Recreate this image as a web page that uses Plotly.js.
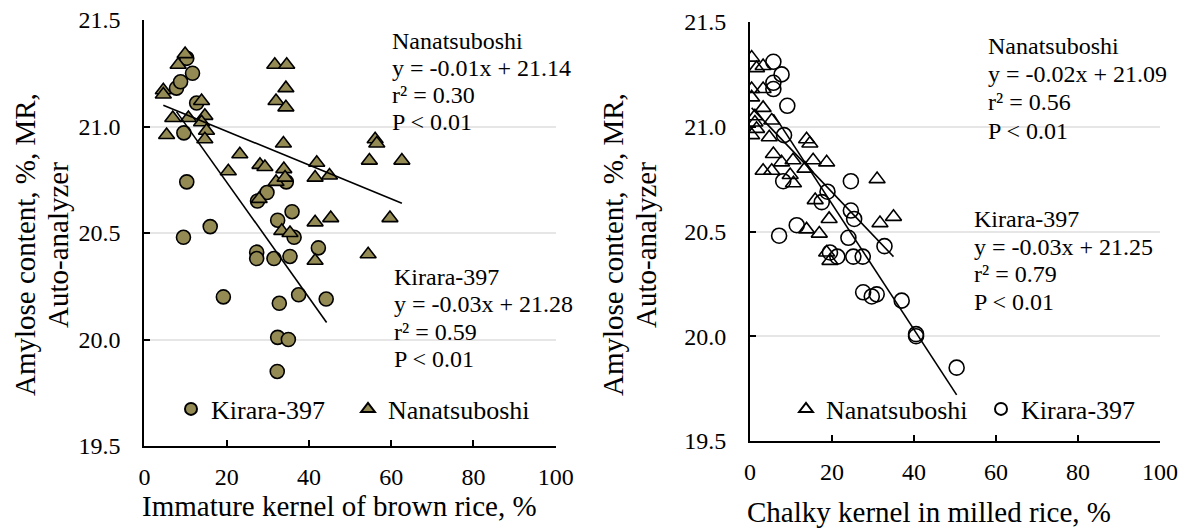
<!DOCTYPE html>
<html><head><meta charset="utf-8">
<script src="https://cdn.plot.ly/plotly-3.0.1.min.js"></script>
<style>html,body{margin:0;padding:0;background:#fff;} #chart{width:1188px;height:529px;}</style>
</head><body><div id="chart"></div>
<script>
// ---------- DATA ----------
// Left panel: Immature kernel of brown rice (%) vs amylose (%)
const kiraraImmX = [7.8, 8.8, 10.3, 11.7, 12.7, 9.6, 10.3, 9.5, 16.0, 19.2, 27.3, 27.3, 27.5, 29.8, 31.5, 32.4, 32.8, 32.4, 32.3, 34.5, 35.0, 35.4, 35.9, 36.4, 37.5, 42.3, 44.2];
const kiraraImmY = [21.18, 21.21, 21.32, 21.25, 21.11, 20.97, 20.74, 20.48, 20.53, 20.20, 20.41, 20.38, 20.65, 20.69, 20.38, 20.56, 20.17, 20.01, 19.85, 20.74, 20.00, 20.39, 20.60, 20.48, 20.21, 20.43, 20.19];
const nanaImmX = [9.9, 8.2, 4.6, 4.6, 31.7, 34.6, 34.4, 32.0, 34.4, 13.9, 6.9, 10.7, 14.7, 13.9, 15.1, 5.4, 14.7, 33.8, 23.2, 28.1, 29.3, 20.4, 33.9, 32.0, 27.9, 41.9, 41.5, 45.0, 33.4, 35.4, 41.5, 45.3, 41.5, 56.1, 56.5, 54.7, 62.6, 54.4, 59.7, 34.2];
const nanaImmY = [21.34, 21.29, 21.17, 21.15, 21.29, 21.29, 21.18, 21.12, 21.09, 21.12, 21.04, 21.04, 21.05, 21.02, 20.98, 20.96, 20.94, 20.92, 20.87, 20.82, 20.81, 20.79, 20.80, 20.74, 20.66, 20.83, 20.76, 20.77, 20.51, 20.50, 20.55, 20.57, 20.37, 20.94, 20.92, 20.84, 20.84, 20.40, 20.57, 20.76];
// Trend lines (end points)
const nanaImmFitX = [4.6, 62.6];
const nanaImmFitY = [21.10, 20.64];
const kiraraImmFitX = [7.8, 44.3];
const kiraraImmFitY = [21.07, 20.08];

// Right panel: Chalky kernel in milled rice (%) vs amylose (%)
const nanaChalkX = [0.4, 1.6, 3.2, 0.4, 0.4, 3.2, 3.2, 1.2, 1.2, 5.3, 1.6, 0.4, 4.7, 13.8, 14.6, 5.7, 7.7, 10.5, 15.4, 18.7, 13.4, 3.2, 5.3, 9.8, 10.6, 31.0, 15.9, 19.3, 31.7, 35.0, 13.8, 16.9, 19.5, 18.7];
const nanaChalkY = [21.33, 21.28, 21.29, 21.18, 21.14, 21.18, 21.09, 21.05, 21.02, 21.03, 20.99, 20.96, 20.95, 20.94, 20.92, 20.87, 20.83, 20.84, 20.84, 20.83, 20.80, 20.79, 20.79, 20.77, 20.73, 20.75, 20.65, 20.56, 20.54, 20.57, 20.51, 20.49, 20.36, 20.40];
const kiraraChalkX = [5.7, 7.7, 5.7, 5.7, 9.1, 8.3, 8.1, 24.6, 18.9, 17.5, 24.6, 25.4, 11.4, 7.1, 24.0, 32.8, 19.5, 21.3, 25.2, 27.5, 27.6, 29.7, 30.9, 37.0, 40.5, 40.5, 50.4];
const kiraraChalkY = [21.31, 21.25, 21.21, 21.18, 21.10, 20.96, 20.74, 20.74, 20.69, 20.64, 20.60, 20.56, 20.53, 20.48, 20.47, 20.43, 20.40, 20.38, 20.38, 20.38, 20.21, 20.19, 20.20, 20.17, 20.01, 20.00, 19.85];
const nanaChalkFitX = [0.4, 35.0];
const nanaChalkFitY = [21.09, 20.38];
const kiraraChalkFitX = [5.7, 50.4];
const kiraraChalkFitY = [21.06, 19.72];

const xTickVals = [0, 20, 40, 60, 80, 100];
const yTickVals = [19.5, 20.0, 20.5, 21.0, 21.5];

const statsLeftNana = ["Nanatsuboshi", "y = -0.01x + 21.14", "r² = 0.30", "P < 0.01"];
const statsLeftKirara = ["Kirara-397", "y = -0.03x + 21.28", "r² = 0.59", "P < 0.01"];
const statsRightNana = ["Nanatsuboshi", "y = -0.02x + 21.09", "r² = 0.56", "P < 0.01"];
const statsRightKirara = ["Kirara-397", "y = -0.03x + 21.25", "r² = 0.79", "P < 0.01"];

// ---------- STYLE ----------
const W = 1188, H = 529;
const SERIF = 'Liberation Serif, serif';
const OLIVE = '#948a54';
const toPX = v => v / W;
const toPY = v => 1 - v / H;
const fnt = (size) => ({family: SERIF, size: size, color: '#000'});

const traces = [
  {x: kiraraImmX, y: kiraraImmY, type: 'scatter', mode: 'markers', name: 'Kirara-397', xaxis: 'x', yaxis: 'y', legend: 'legend', legendwidth: 132,
   marker: {symbol: 'circle', size: 14, color: OLIVE, line: {color: '#000', width: 1.6}}},
  {x: nanaImmX, y: nanaImmY, type: 'scatter', mode: 'markers', name: 'Nanatsuboshi', xaxis: 'x', yaxis: 'y', legend: 'legend', legendwidth: 150,
   marker: {symbol: 'triangle-up', size: 14, color: OLIVE, line: {color: '#000', width: 1.6}}},
  {x: nanaImmFitX, y: nanaImmFitY, type: 'scatter', mode: 'lines', showlegend: false, xaxis: 'x', yaxis: 'y', line: {color: '#000', width: 1.6}},
  {x: kiraraImmFitX, y: kiraraImmFitY, type: 'scatter', mode: 'lines', showlegend: false, xaxis: 'x', yaxis: 'y', line: {color: '#000', width: 1.6}},

  {x: nanaChalkX, y: nanaChalkY, type: 'scatter', mode: 'markers', name: 'Nanatsuboshi', xaxis: 'x2', yaxis: 'y2', legend: 'legend2', legendwidth: 150,
   marker: {symbol: 'triangle-up-open', size: 14, color: '#000', line: {color: '#000', width: 1.6}}},
  {x: kiraraChalkX, y: kiraraChalkY, type: 'scatter', mode: 'markers', name: 'Kirara-397', xaxis: 'x2', yaxis: 'y2', legend: 'legend2', legendwidth: 130,
   marker: {symbol: 'circle-open', size: 15, color: '#000', line: {color: '#000', width: 1.6}}},
  {x: nanaChalkFitX, y: nanaChalkFitY, type: 'scatter', mode: 'lines', showlegend: false, xaxis: 'x2', yaxis: 'y2', line: {color: '#000', width: 1.6}},
  {x: kiraraChalkFitX, y: kiraraChalkFitY, type: 'scatter', mode: 'lines', showlegend: false, xaxis: 'x2', yaxis: 'y2', line: {color: '#000', width: 1.6}}
];

function xAxis(domain, anchor) {
  return {domain: domain, anchor: anchor, range: [0, 100], tickvals: xTickVals, ticktext: xTickVals.map(String),
    showline: true, linecolor: '#000', linewidth: 2, ticks: 'inside', ticklen: 6, tickwidth: 2, tickcolor: '#000',
    showgrid: false, zeroline: false, tickfont: fnt(24), ticklabelstandoff: 8, fixedrange: true};
}
function yAxis(domain, anchor) {
  return {domain: domain, anchor: anchor, range: [19.5, 21.5], tickvals: yTickVals, ticktext: yTickVals.map(v => v.toFixed(1)),
    showline: true, linecolor: '#000', linewidth: 2, ticks: 'inside', ticklen: 6, tickwidth: 2, tickcolor: '#000',
    showgrid: true, gridcolor: '#e6e6e6', gridwidth: 2, zeroline: false,
    tickfont: fnt(24), ticklabelstandoff: 17, fixedrange: true};
}

const annotations = [];
function addLine(text, xLeft, yCenter, size) {
  annotations.push({text: text, xref: 'paper', yref: 'paper', x: toPX(xLeft), y: toPY(yCenter), xanchor: 'left', yanchor: 'middle',
    showarrow: false, font: fnt(size), borderpad: 0, borderwidth: 0});
}
function addStats(lines, xLeft, centers) {
  lines.forEach((t, i) => addLine(t, xLeft, centers[i], 24));
}
addStats(statsLeftNana, 392, [41, 68, 95, 122]);
addStats(statsLeftKirara, 394, [277, 304, 332, 359]);
addStats(statsRightNana, 988, [46, 74, 102, 131]);
addStats(statsRightKirara, 974, [219, 247, 274, 302]);

function addTitle(text, xc, yc, angle) {
  annotations.push({text: text, xref: 'paper', yref: 'paper', x: toPX(xc), y: toPY(yc), xanchor: 'center', yanchor: 'middle',
    textangle: angle, showarrow: false, font: fnt(29), borderpad: 0, borderwidth: 0});
}
addTitle('Immature kernel of brown rice, %', 340, 506, 0);
addTitle('Chalky kernel in milled rice, %', 929, 512, 0);
addTitle('Amylose content, %, MR,', 25, 245, -90);
addTitle('Auto-analyzer', 58, 245, -90);
addTitle('Amylose content, %, MR,', 613, 245, -90);
addTitle('Auto-analyzer', 646, 245, -90);

function whiteBox(x0, y0, x1, y1) {
  return {type: 'rect', xref: 'paper', yref: 'paper', x0: toPX(x0), x1: toPX(x1), y0: toPY(y1), y1: toPY(y0),
    fillcolor: '#fff', line: {width: 0}, layer: 'between'};
}

const layout = {
  width: W, height: H, margin: {l: 0, r: 0, t: 0, b: 0}, paper_bgcolor: '#fff', plot_bgcolor: 'rgba(0,0,0,0)',
  font: fnt(24),
  xaxis: xAxis([toPX(144.4), toPX(555.7)], 'y'),
  yaxis: yAxis([1 - 446 / H, 1 - 20 / H], 'x'),
  xaxis2: xAxis([toPX(750), toPX(1160)], 'y2'),
  yaxis2: yAxis([1 - 441 / H, 1 - 22 / H], 'x2'),
  legend: {orientation: 'h', x: toPX(171), y: toPY(409), xanchor: 'left', yanchor: 'middle', font: fnt(26),
    bgcolor: 'rgba(0,0,0,0)', itemsizing: 'constant'},
  legend2: {orientation: 'h', x: toPX(786), y: toPY(409), xanchor: 'left', yanchor: 'middle', font: fnt(26),
    bgcolor: 'rgba(0,0,0,0)', itemsizing: 'constant'},
  shapes: [whiteBox(388, 30, 585, 137), whiteBox(385, 262, 590, 372), whiteBox(978, 33, 1185, 145), whiteBox(965, 205, 1185, 317)],
  annotations: annotations,
  showlegend: true
};

Plotly.newPlot('chart', traces, layout, {displayModeBar: false});
</script></body></html>
